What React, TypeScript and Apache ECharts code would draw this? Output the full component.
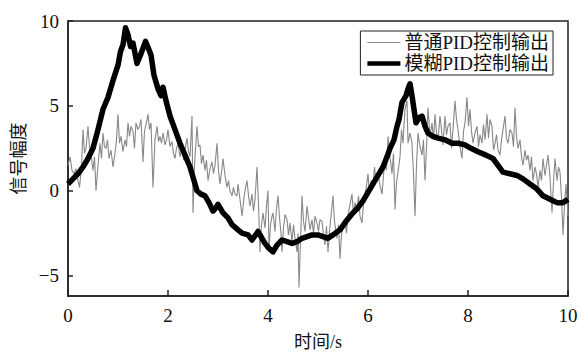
import React, { useEffect, useRef } from "react";
import * as echarts from "echarts";

const seriesNames = ["普通PID控制输出", "模糊PID控制输出"];
const xTicks = [0, 2, 4, 6, 8, 10];
const yTicks = [-5, 0, 5, 10];
const xAxisName = "时间/s";
const yAxisName = "信号幅度";

// 普通PID控制输出 (thin gray, noisy) [time, value]
const ordinaryPid: [number, number][] = [
  [0, 1.5], [0.04, 2.0], [0.08, 1.2], [0.12, 1.0], [0.16, 1.3], [0.2, 0.6], [0.23, 0.2], [0.27, 1.4], [0.3, 3.6], [0.33, 2.2],
  [0.36, 2.5], [0.4, 3.8], [0.43, 2.6], [0.46, 2.1], [0.5, 1.2], [0.53, 2.0], [0.56, 0.0], [0.6, 1.5], [0.64, 2.8], [0.67, 1.9],
  [0.7, 3.4], [0.73, 2.6], [0.76, 2.5], [0.79, 3.0], [0.82, 1.9], [0.86, 2.4], [0.9, 1.4], [0.94, 2.2], [0.97, 3.0], [1.0, 4.5],
  [1.03, 2.8], [1.06, 3.2], [1.1, 2.3], [1.14, 3.0], [1.17, 2.6], [1.2, 4.0], [1.23, 3.2], [1.26, 3.8], [1.3, 3.5], [1.33, 2.5],
  [1.36, 4.0], [1.4, 3.6], [1.43, 3.8], [1.46, 4.2], [1.5, 1.7], [1.53, 3.5], [1.56, 3.9], [1.6, 4.5], [1.63, 3.6], [1.66, 4.0],
  [1.7, 0.2], [1.74, 3.0], [1.78, 3.8], [1.81, 2.9], [1.84, 3.2], [1.87, 2.8], [1.9, 3.4], [1.94, 2.7], [1.97, 3.0], [2.0, 3.6],
  [2.04, 2.6], [2.08, 2.9], [2.11, 2.2], [2.14, 1.9], [2.17, 2.5], [2.2, 2.8], [2.24, 2.0], [2.28, 2.6], [2.31, 1.8], [2.34, 2.4],
  [2.38, 3.1], [2.41, 2.3], [2.44, 2.0], [2.48, 4.4], [2.5, -1.3], [2.53, 1.5], [2.56, 2.9], [2.58, 3.8], [2.61, 2.6], [2.64, 2.7],
  [2.67, 1.6], [2.7, 2.1], [2.74, 1.2], [2.77, 1.8], [2.8, 0.6], [2.84, 1.3], [2.88, 1.7], [2.91, 1.0], [2.94, 1.5], [2.98, 2.8],
  [3.01, 1.2], [3.04, 0.4], [3.07, 1.1], [3.1, 1.9], [3.14, 0.9], [3.18, 0.2], [3.21, 0.6], [3.24, 0.0], [3.28, -0.3], [3.31, 0.2],
  [3.34, -0.2], [3.38, -0.3], [3.4, 0.4], [3.44, -0.5], [3.48, -1.5], [3.52, -0.4], [3.55, 0.2], [3.58, 0.6], [3.61, -0.3], [3.64, -0.9],
  [3.68, -0.2], [3.71, -1.2], [3.74, -0.5], [3.78, 1.4], [3.81, -0.8], [3.84, -3.6], [3.87, -2.0], [3.9, -1.3], [3.94, -2.2], [3.97, -0.9],
  [4.0, 0.0], [4.02, -3.5], [4.05, -2.0], [4.08, -1.5], [4.1, -1.3], [4.14, -2.4], [4.17, -1.0], [4.2, -0.3], [4.23, -1.6], [4.26, -2.5],
  [4.28, -3.6], [4.31, -2.2], [4.34, -1.4], [4.38, -1.7], [4.41, -2.6], [4.44, -1.9], [4.48, -3.0], [4.51, -2.0], [4.54, -2.8], [4.58, -3.6],
  [4.6, -2.5], [4.62, -5.7], [4.65, -3.0], [4.68, -0.3], [4.71, -1.8], [4.74, -2.4], [4.78, -0.9], [4.81, -1.6], [4.84, -2.3], [4.88, -1.7],
  [4.91, -2.5], [4.94, -1.5], [4.98, -1.9], [5.01, -2.4], [5.04, -1.7], [5.08, -1.8], [5.11, -2.6], [5.14, -3.2], [5.17, -2.1], [5.2, -3.6],
  [5.23, -2.4], [5.26, -1.5], [5.3, -0.3], [5.33, -1.8], [5.35, -2.2], [5.38, -2.8], [5.41, -2.0], [5.44, -4.0], [5.47, -2.6], [5.5, -2.0],
  [5.54, -1.7], [5.57, -2.5], [5.6, -1.4], [5.64, -0.8], [5.68, -0.2], [5.71, -1.4], [5.74, -0.7], [5.78, -1.1], [5.81, -0.3], [5.84, -1.5],
  [5.88, -1.9], [5.91, -0.8], [5.94, -0.2], [5.97, 0.3], [6.0, 1.0], [6.03, -0.2], [6.06, 0.6], [6.1, 0.2], [6.13, 1.4], [6.16, 0.5],
  [6.2, 1.0], [6.24, 0.3], [6.28, -0.2], [6.31, 0.9], [6.34, 1.9], [6.37, 1.2], [6.4, 3.2], [6.44, 2.0], [6.48, 1.0], [6.51, 2.2],
  [6.54, -1.1], [6.57, 0.5], [6.6, 1.1], [6.64, 2.0], [6.67, 3.6], [6.7, 2.8], [6.74, 4.8], [6.78, 5.3], [6.8, 2.8], [6.84, 3.4],
  [6.88, 2.8], [6.91, 1.0], [6.94, -1.5], [6.97, 1.5], [7.0, 3.4], [7.04, 2.6], [7.08, 2.1], [7.11, 3.0], [7.14, 0.6], [7.17, 2.5],
  [7.2, 4.9], [7.24, 3.2], [7.28, 4.0], [7.31, 3.0], [7.34, 4.5], [7.37, 3.4], [7.4, 3.0], [7.44, 4.4], [7.47, 3.6], [7.5, 2.7],
  [7.54, 4.4], [7.57, 3.3], [7.6, 3.8], [7.64, 4.0], [7.67, 2.5], [7.7, 3.6], [7.74, 5.3], [7.77, 4.2], [7.8, 3.6], [7.84, 2.6],
  [7.88, 1.9], [7.91, 3.5], [7.94, 4.0], [7.98, 5.5], [8.01, 3.8], [8.04, 4.8], [8.07, 3.5], [8.1, 2.8], [8.14, 3.4], [8.18, 3.8],
  [8.21, 2.6], [8.24, 3.3], [8.28, 2.8], [8.31, 3.9], [8.34, 3.0], [8.38, 4.5], [8.41, 3.1], [8.44, 4.2], [8.48, 3.8], [8.51, 2.4],
  [8.54, 2.8], [8.57, 3.3], [8.6, 2.4], [8.64, 2.1], [8.67, 3.0], [8.7, 3.6], [8.74, 4.4], [8.77, 3.1], [8.8, 2.8], [8.84, 3.6],
  [8.88, 3.4], [8.91, 2.6], [8.94, 4.9], [8.97, 3.2], [9.0, 2.5], [9.04, 3.0], [9.07, 2.0], [9.1, 1.5], [9.14, 2.4], [9.17, 1.8],
  [9.2, 2.1], [9.24, 1.2], [9.27, 2.0], [9.3, 0.6], [9.34, 1.4], [9.37, 1.0], [9.4, 0.2], [9.44, 1.2], [9.47, 0.6], [9.5, 1.9],
  [9.54, 0.9], [9.57, 1.5], [9.6, 2.1], [9.64, 0.8], [9.68, -1.3], [9.71, 0.5], [9.74, 1.9], [9.78, 0.6], [9.81, 1.4], [9.84, 1.1],
  [9.87, -0.4], [9.9, -2.6], [9.93, -0.8], [9.96, 0.4], [9.98, -0.6], [10.0, -1.5],
];

// 模糊PID控制输出 (thick black) [time, value]
const fuzzyPid: [number, number][] = [
  [0, 0.4], [0.1, 0.7], [0.2, 1.0], [0.3, 1.4], [0.4, 1.9], [0.5, 2.5], [0.6, 3.6], [0.7, 4.8], [0.8, 5.5], [0.9, 6.5],
  [1.0, 7.4], [1.05, 8.2], [1.1, 8.6], [1.15, 9.6], [1.2, 9.2], [1.25, 8.5], [1.3, 8.7], [1.38, 7.5], [1.45, 8.0], [1.55, 8.8],
  [1.62, 8.3], [1.66, 8.0], [1.72, 6.8], [1.8, 6.0], [1.86, 5.6], [1.9, 6.1], [1.96, 5.3], [2.04, 4.4], [2.14, 3.6], [2.24, 2.8],
  [2.34, 2.1], [2.44, 1.4], [2.52, 0.6], [2.58, 0.0], [2.66, -0.2], [2.74, -0.3], [2.82, -0.7], [2.9, -1.2], [2.96, -1.0], [3.0, -0.8],
  [3.1, -1.3], [3.2, -1.6], [3.28, -2.0], [3.4, -2.3], [3.48, -2.5], [3.6, -2.6], [3.68, -2.9], [3.8, -2.4], [3.88, -2.8], [3.94, -3.1],
  [4.02, -3.4], [4.1, -3.6], [4.18, -3.2], [4.28, -2.9], [4.38, -3.0], [4.48, -3.1], [4.58, -3.0], [4.68, -2.8], [4.78, -2.7], [4.88, -2.6],
  [5.0, -2.6], [5.1, -2.7], [5.2, -2.8], [5.3, -2.6], [5.44, -2.3], [5.56, -1.8], [5.7, -1.3], [5.8, -1.0], [5.9, -0.6], [6.0, -0.1],
  [6.1, 0.4], [6.2, 0.9], [6.3, 1.4], [6.38, 2.0], [6.44, 2.5], [6.52, 3.0], [6.58, 3.8], [6.62, 4.2], [6.68, 5.2], [6.72, 5.4],
  [6.76, 5.6], [6.8, 6.0], [6.84, 6.3], [6.88, 5.6], [6.92, 4.8], [6.96, 4.0], [7.02, 4.3], [7.08, 4.4], [7.14, 3.8], [7.2, 3.4],
  [7.3, 3.2], [7.4, 3.1], [7.54, 3.0], [7.68, 2.8], [7.8, 2.8], [7.94, 2.7], [8.06, 2.5], [8.2, 2.3], [8.36, 2.1], [8.5, 1.9],
  [8.6, 1.5], [8.7, 1.1], [8.84, 1.0], [8.98, 0.9], [9.1, 0.7], [9.24, 0.4], [9.38, 0.1], [9.5, -0.3], [9.64, -0.5], [9.78, -0.7],
  [9.9, -0.7], [10.0, -0.5],
];

const FONT = "'Liberation Serif', 'Noto Sans CJK SC', serif";
const fmt = (v: number) => (v < 0 ? "\u2212" + Math.abs(v) : String(v));

export default function App() {
  const ref = useRef<HTMLDivElement>(null);
  useEffect(() => {
    if (!ref.current) return;
    const chart = echarts.init(ref.current, undefined, { renderer: "svg" });
    chart.setOption({
      animation: false,
      backgroundColor: "#fff",
      grid: {
        left: 68, right: 13, top: 21, bottom: 50,
        show: true, borderColor: "#222", borderWidth: 1.5, backgroundColor: "transparent",
      },
      legend: {
        data: [
          { name: seriesNames[0], icon: "path://M0,0H100V3.5H0Z" },
          { name: seriesNames[1], icon: "path://M0,0H100V14H0Z" },
        ],
        orient: "vertical",
        right: 28,
        top: 31,
        itemWidth: 33,
        itemHeight: 14,
        itemGap: 2,
        padding: [2, 4, 2, 7],
        borderColor: "#222",
        borderWidth: 1,
        borderRadius: 0,
        textStyle: { fontFamily: FONT, fontSize: 19, color: "#111", padding: [0, 0, 0, -1] },
      },
      xAxis: {
        type: "value",
        min: 0,
        max: 10,
        interval: 2,
        name: xAxisName,
        nameLocation: "middle",
        nameGap: 37,
        nameTextStyle: { fontFamily: FONT, fontSize: 18, color: "#111" },
        axisLine: { show: true, onZero: false, lineStyle: { color: "#222", width: 1.5 } },
        axisTick: { show: true, inside: true, length: 6, lineStyle: { color: "#222", width: 1.5 } },
        axisLabel: { fontFamily: FONT, fontSize: 19, color: "#111", margin: 10, formatter: fmt },
        splitLine: { show: false },
      },
      yAxis: {
        type: "value",
        min: -6.2,
        max: 10,
        name: yAxisName,
        nameLocation: "middle",
        nameGap: 40,
        nameRotate: 90,
        nameTextStyle: { fontFamily: FONT, fontSize: 18, color: "#111" },
        axisLine: { show: true, onZero: false, lineStyle: { color: "#222", width: 1.5 } },
        axisTick: { show: true, inside: true, length: 5, customValues: yTicks, lineStyle: { color: "#222", width: 1.5 } },
        axisLabel: { fontFamily: FONT, fontSize: 19, color: "#111", margin: 9, customValues: yTicks, formatter: fmt },
        splitLine: { show: false },
      },
      series: [
        {
          name: seriesNames[0],
          type: "line",
          data: ordinaryPid,
          symbol: "none",
          lineStyle: { color: "#888", width: 1.1 },
          itemStyle: { color: "#888" },
          z: 2,
        },
        {
          name: seriesNames[1],
          type: "line",
          data: fuzzyPid,
          symbol: "none",
          lineStyle: { color: "#000", width: 5.5, join: "round" },
          itemStyle: { color: "#000" },
          z: 3,
        },
      ],
    });
    return () => chart.dispose();
  }, []);
  return <div ref={ref} style={{ width: 581, height: 356, position: "absolute", left: 0, top: 0 }} />;
}
